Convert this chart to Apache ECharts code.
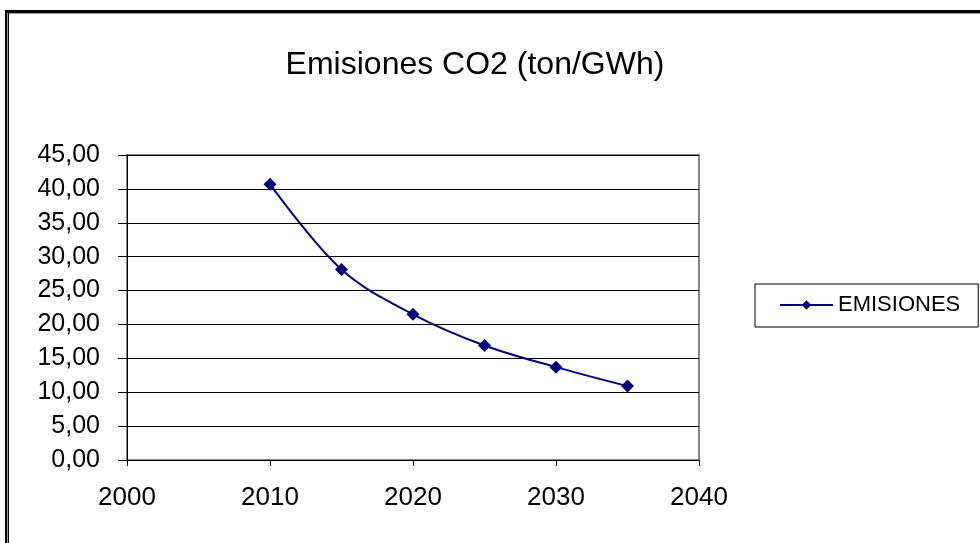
<!DOCTYPE html>
<html>
<head>
<meta charset="utf-8">
<script src="https://cdn.jsdelivr.net/npm/echarts@6/dist/echarts.min.js"></script>
<style>
  html, body { margin: 0; padding: 0; background: #fff; }
  #chart { width: 980px; height: 543px; }
</style>
</head>
<body>
<div id="chart"></div>
<script>
// Emission factor per year (ton/GWh)
const years = [2010, 2015, 2020, 2025, 2030, 2035];
const emisiones = [40.7, 28.1, 21.5, 16.9, 13.7, 10.9];
const seriesName = 'EMISIONES';
const titleText = 'Emisiones CO2 (ton/GWh)';

const FONT = '"Liberation Sans", Arial, sans-serif';
const chart = echarts.init(document.getElementById('chart'));

chart.setOption({
  backgroundColor: '#ffffff',
  animation: false,
  title: {
    text: titleText,
    left: 470,
    top: 44,
    textAlign: 'center',
    textStyle: { fontFamily: FONT, fontSize: 32, fontWeight: 'normal', color: '#000' }
  },
  legend: {
    data: [seriesName],
    left: 755,
    top: 284,
    padding: [10, 18, 11, 24],
    itemWidth: 53,
    itemHeight: 12,
    itemGap: 4,
    borderColor: '#000',
    borderWidth: 1,
    textStyle: { fontFamily: FONT, fontSize: 22, color: '#000' }
  },
  grid: { left: 127, top: 155, right: 281, bottom: 83, show: true, borderColor: '#888', borderWidth: 2, backgroundColor: '#fff' },
  xAxis: {
    type: 'value',
    min: 2000,
    max: 2040,
    interval: 10,
    axisLine: { show: true, lineStyle: { color: '#000', width: 1 } },
    axisTick: { show: true, length: 6, lineStyle: { color: '#000' } },
    axisLabel: { fontFamily: FONT, fontSize: 26, color: '#000', margin: 25, formatter: v => String(v) },
    splitLine: { show: false }
  },
  yAxis: {
    type: 'value',
    min: 0,
    max: 45,
    interval: 5,
    axisLine: { show: true, lineStyle: { color: '#000', width: 1 } },
    axisTick: { show: true, length: 9, lineStyle: { color: '#000' } },
    axisLabel: {
      fontFamily: FONT, fontSize: 25, color: '#000', margin: 27,
      formatter: v => v.toFixed(2).replace('.', ',')
    },
    splitLine: { show: true, lineStyle: { color: '#000', width: 1 } }
  },
  series: [{
    name: seriesName,
    type: 'line',
    data: years.map((y, i) => [y, emisiones[i]]),
    smooth: 0.35,
    symbol: 'diamond',
    symbolSize: 13,
    lineStyle: { color: '#000080', width: 2 },
    itemStyle: { color: '#000080' }
  }],
  graphic: [
    // outer frame: top and left edges
    { type: 'rect', shape: { x: 5, y: 10, width: 975, height: 3 }, style: { fill: '#000' } },
    { type: 'rect', shape: { x: 5, y: 13, width: 975, height: 1 }, style: { fill: '#999' } },
    { type: 'rect', shape: { x: 5, y: 10, width: 2, height: 533 }, style: { fill: '#000' } },
    { type: 'rect', shape: { x: 7, y: 13, width: 1, height: 530 }, style: { fill: '#999' } },
    { type: 'rect', shape: { x: 8, y: 13, width: 1, height: 530 }, style: { fill: '#000' } }
  ]
});
</script>
</body>
</html>
